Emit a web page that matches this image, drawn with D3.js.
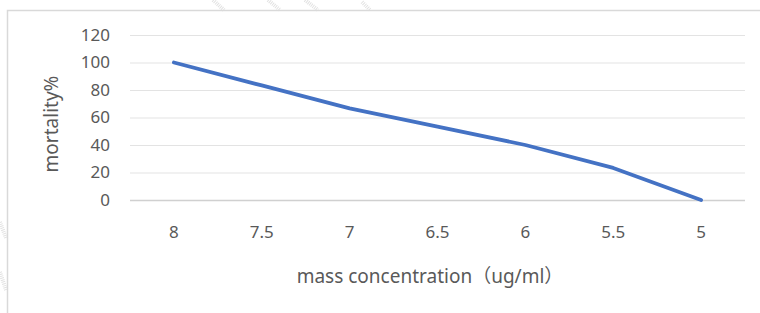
<!DOCTYPE html>
<html>
<head>
<meta charset="utf-8">
<script src="https://cdn.jsdelivr.net/npm/d3@7/dist/d3.min.js"></script>
<style>
  body { margin: 0; background: #fff; }
  text { font-family: "Noto Sans", "Noto Sans CJK SC", sans-serif; fill: #595959; }
</style>
</head>
<body>
<div id="chart"></div>
<script>
const width = 760;
const height = 313;

const concentrations = ["8", "7.5", "7", "6.5", "6", "5.5", "5"];
const mortality = [100, 83.3, 66.7, 53.3, 40, 23.3, 0];
const yTicks = [0, 20, 40, 60, 80, 100, 120];

const plot = { left: 130, right: 745, top: 35, bottom: 200 };

const svg = d3.select("#chart")
    .append("svg")
    .attr("width", width)
    .attr("height", height);

// faint scan watermark stripes outside the frame
const stripes = svg.append("g")
    .attr("stroke", "#e2e2e2")
    .attr("stroke-width", 4)
    .attr("stroke-dasharray", "1 1");
[[213, 0, 224, 10], [268, 0, 280, 10], [305, 0, 318, 10], [362, 2, 370, 10]]
    .forEach(s => stripes.append("line")
        .attr("x1", s[0]).attr("y1", s[1]).attr("x2", s[2]).attr("y2", s[3]));
[[0, 222, 6, 238], [0, 272, 6, 290]]
    .forEach(s => stripes.append("line")
        .attr("x1", s[0]).attr("y1", s[1]).attr("x2", s[2]).attr("y2", s[3]));

// outer chart frame (runs off the right and bottom of the picture)
svg.append("path")
    .attr("d", `M7.5,${height + 5}V10.5H${width + 5}`)
    .attr("fill", "none")
    .attr("stroke", "#d9d9d9")
    .attr("stroke-width", 1.5);

const x = d3.scaleBand()
    .domain(concentrations)
    .range([plot.left, plot.right]);

const y = d3.scaleLinear()
    .domain([0, 120])
    .range([plot.bottom, plot.top]);

// gridlines + y labels
const yAxis = d3.axisLeft(y)
    .tickValues(yTicks)
    .tickSize(-(plot.right - plot.left))
    .tickPadding(20);

const yg = svg.append("g")
    .attr("transform", `translate(${plot.left},0)`)
    .call(yAxis);
yg.select(".domain").remove();
yg.selectAll("line")
    .attr("stroke", d => d === 0 ? "#d0d0d0" : "#e3e3e3")
    .attr("stroke-width", d => d === 0 ? 1.5 : 1.2);
yg.selectAll("text")
    .attr("font-size", "17px")
    .attr("fill", "#595959");

// x labels
const xAxis = d3.axisBottom(x)
    .tickSize(0)
    .tickPadding(26);

const xg = svg.append("g")
    .attr("transform", `translate(0,${plot.bottom})`)
    .call(xAxis);
xg.select(".domain").remove();
xg.selectAll("text")
    .attr("font-size", "17px")
    .attr("fill", "#595959");

// the line
const line = d3.line()
    .x((d, i) => x(concentrations[i]) + x.bandwidth() / 2)
    .y(d => y(d));

svg.append("path")
    .datum(mortality)
    .attr("d", line)
    .attr("fill", "none")
    .attr("stroke", "#4472c4")
    .attr("stroke-width", 3.8)
    .attr("stroke-linecap", "round")
    .attr("stroke-linejoin", "round");

// axis titles
svg.append("text")
    .attr("transform", `translate(58,124) rotate(-90)`)
    .attr("text-anchor", "middle")
    .attr("font-size", "19px")
    .text("mortality%");

svg.append("text")
    .attr("x", 430)
    .attr("y", 283)
    .attr("text-anchor", "middle")
    .attr("font-size", "19px")
    .text("mass concentration（ug/ml）");
</script>
</body>
</html>
